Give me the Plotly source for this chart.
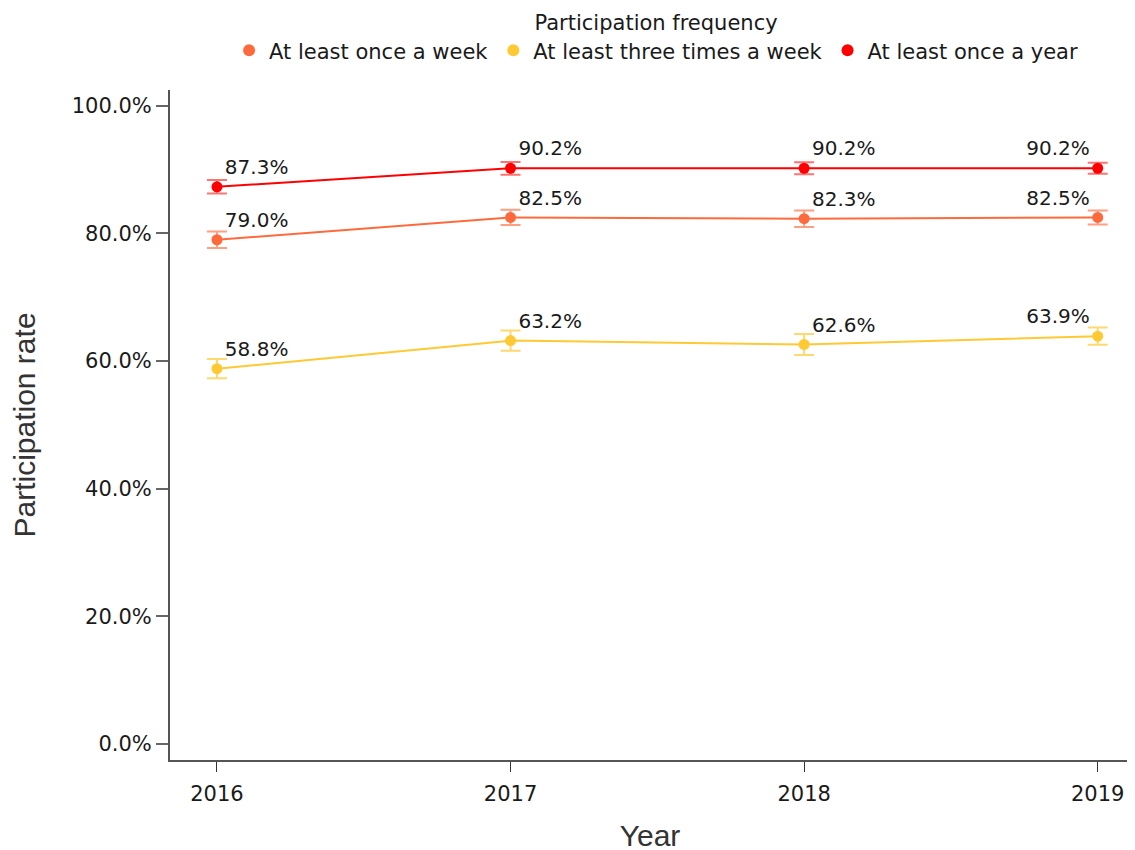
import plotly.graph_objects as go

years = [2016, 2017, 2018, 2019]
series_names = ["At least once a week", "At least three times a week", "At least once a year"]
once_week = [79.0, 82.5, 82.3, 82.5]
three_week = [58.8, 63.2, 62.6, 63.9]
once_year = [87.3, 90.2, 90.2, 90.2]
err_once_week = [1.3, 1.2, 1.3, 1.1]
err_three_week = [1.5, 1.6, 1.65, 1.35]
err_once_year = [1.05, 1.0, 0.95, 0.85]
y_tick_vals = [0, 20, 40, 60, 80, 100]
y_tick_text = ["0.0%", "20.0%", "40.0%", "60.0%", "80.0%", "100.0%"]

colors = ["#FF6A3D", "#FFC933", "#FF0000"]
err_colors = ["rgba(255,106,61,0.65)", "rgba(255,201,51,0.7)", "rgba(255,0,0,0.55)"]
values = [once_week, three_week, once_year]
errors = [err_once_week, err_three_week, err_once_year]

label_font = "DejaVu Sans"
title_font = "Liberation Sans, Arial, sans-serif"

fig = go.Figure()
positions = ["top right", "top right", "top right", "top left"]
for name, vals, errs, c, ec in zip(series_names, values, errors, colors, err_colors):
    fig.add_trace(go.Scatter(
        x=years, y=vals, mode="lines+markers+text", name=name, showlegend=False,
        line=dict(color=c, width=2),
        marker=dict(color=c, size=11),
        error_y=dict(type="data", array=errs, visible=True, color=ec, thickness=2, width=10),
        texttemplate="%{y:.1f}%", textposition=positions,
        textfont=dict(family=label_font, size=20, color="#1a1a1a"),
    ))
for name, c in zip(series_names, colors):
    fig.add_trace(go.Scatter(
        x=[None], y=[None], mode="markers", name=name,
        marker=dict(color=c, size=10), showlegend=True,
    ))

fig.update_layout(
    width=1135, height=850,
    margin=dict(l=162, r=13, t=82, b=98, autoexpand=False),
    paper_bgcolor="white", plot_bgcolor="white",
    font=dict(family=label_font, size=21, color="#1a1a1a"),
    legend=dict(
        orientation="h", xref="container", yref="paper",
        x=0.571, xanchor="center", y=1.13, yanchor="top",
        title=dict(text="Participation frequency", side="top center",
                   font=dict(family=label_font, size=21, color="#1a1a1a")),
        font=dict(family=label_font, size=21, color="#1a1a1a"),
        itemsizing="constant",
    ),
    xaxis=dict(
        range=[2015.84, 2019.11], tickvals=years, ticktext=[str(y) for y in years],
        showgrid=False, zeroline=False, showline=True, linecolor="#555555", linewidth=2,
        ticks="outside", ticklen=10, tickwidth=1, tickcolor="#333333", automargin=False,
        ticklabelstandoff=4,
        tickfont=dict(family=label_font, size=21, color="#1a1a1a"),
        title=dict(text="Year", font=dict(family=title_font, size=30, color="#333333"), standoff=20),
    ),
    yaxis=dict(
        range=[-2.5, 102.46], tickmode="array", tickvals=y_tick_vals, ticktext=y_tick_text,
        showgrid=False, zeroline=False, showline=True, linecolor="#555555", linewidth=2,
        ticks="outside", ticklen=12, tickwidth=2, tickcolor="#666666", automargin=False,
        tickfont=dict(family=label_font, size=21, color="#1a1a1a"),
        title=dict(text="Participation rate", font=dict(family=title_font, size=30, color="#333333"), standoff=30),
    ),
)

fig.write_html("out.html")
